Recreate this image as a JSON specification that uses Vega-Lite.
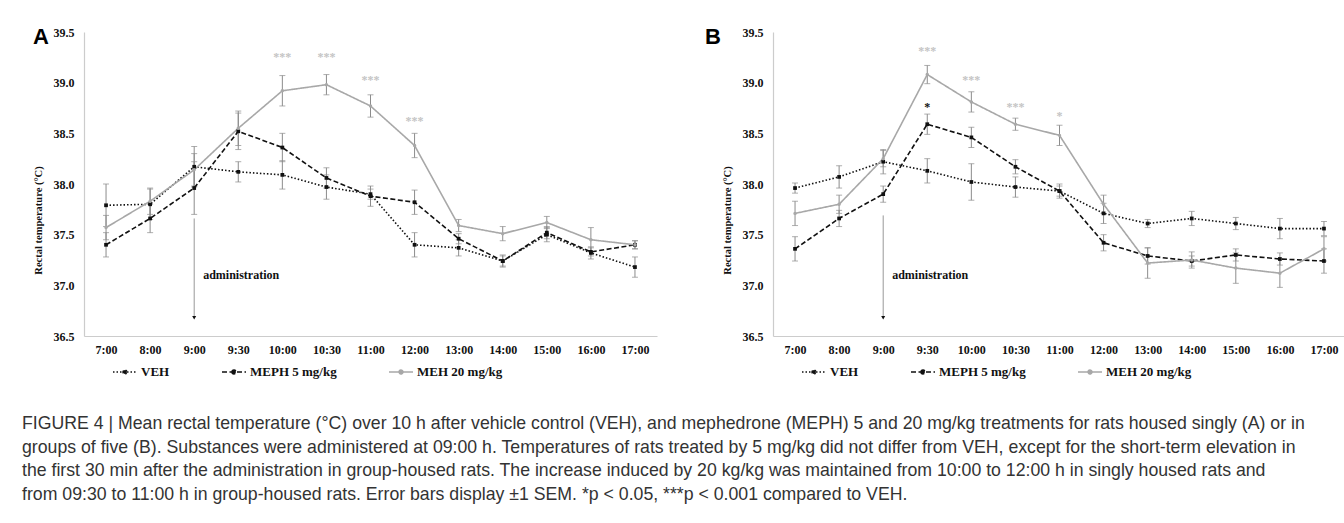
{
  "$schema": "https://vega.github.io/schema/vega-lite/v6.json",
  "background": "#ffffff",
  "padding": {"left": 22, "top": 26, "right": 0, "bottom": 0},
  "autosize": {"type": "pad"},
  "datasets": {
    "temps": [
      {"panel":"A","time":"7:00","series":"VEH","mean":37.79,"sem":0.21},
      {"panel":"A","time":"8:00","series":"VEH","mean":37.80,"sem":0.15},
      {"panel":"A","time":"9:00","series":"VEH","mean":38.17,"sem":0.20},
      {"panel":"A","time":"9:30","series":"VEH","mean":38.12,"sem":0.10},
      {"panel":"A","time":"10:00","series":"VEH","mean":38.09,"sem":0.14},
      {"panel":"A","time":"10:30","series":"VEH","mean":37.97,"sem":0.12},
      {"panel":"A","time":"11:00","series":"VEH","mean":37.90,"sem":0.05},
      {"panel":"A","time":"12:00","series":"VEH","mean":37.40,"sem":0.12},
      {"panel":"A","time":"13:00","series":"VEH","mean":37.37,"sem":0.08},
      {"panel":"A","time":"14:00","series":"VEH","mean":37.24,"sem":0.06},
      {"panel":"A","time":"15:00","series":"VEH","mean":37.50,"sem":0.07},
      {"panel":"A","time":"16:00","series":"VEH","mean":37.32,"sem":0.06},
      {"panel":"A","time":"17:00","series":"VEH","mean":37.18,"sem":0.10},
      {"panel":"A","time":"7:00","series":"MEPH 5 mg/kg","mean":37.40,"sem":0.12},
      {"panel":"A","time":"8:00","series":"MEPH 5 mg/kg","mean":37.66,"sem":0.14},
      {"panel":"A","time":"9:00","series":"MEPH 5 mg/kg","mean":37.96,"sem":0.26},
      {"panel":"A","time":"9:30","series":"MEPH 5 mg/kg","mean":38.52,"sem":0.18},
      {"panel":"A","time":"10:00","series":"MEPH 5 mg/kg","mean":38.36,"sem":0.14},
      {"panel":"A","time":"10:30","series":"MEPH 5 mg/kg","mean":38.06,"sem":0.10},
      {"panel":"A","time":"11:00","series":"MEPH 5 mg/kg","mean":37.88,"sem":0.10},
      {"panel":"A","time":"12:00","series":"MEPH 5 mg/kg","mean":37.82,"sem":0.12},
      {"panel":"A","time":"13:00","series":"MEPH 5 mg/kg","mean":37.46,"sem":0.05},
      {"panel":"A","time":"14:00","series":"MEPH 5 mg/kg","mean":37.24,"sem":0.05},
      {"panel":"A","time":"15:00","series":"MEPH 5 mg/kg","mean":37.52,"sem":0.06},
      {"panel":"A","time":"16:00","series":"MEPH 5 mg/kg","mean":37.33,"sem":0.04},
      {"panel":"A","time":"17:00","series":"MEPH 5 mg/kg","mean":37.40,"sem":0.04},
      {"panel":"A","time":"7:00","series":"MEH 20 mg/kg","mean":37.57,"sem":0.12},
      {"panel":"A","time":"8:00","series":"MEH 20 mg/kg","mean":37.83,"sem":0.13},
      {"panel":"A","time":"9:00","series":"MEH 20 mg/kg","mean":38.14,"sem":0.16},
      {"panel":"A","time":"9:30","series":"MEH 20 mg/kg","mean":38.55,"sem":0.17},
      {"panel":"A","time":"10:00","series":"MEH 20 mg/kg","mean":38.92,"sem":0.15},
      {"panel":"A","time":"10:30","series":"MEH 20 mg/kg","mean":38.98,"sem":0.10},
      {"panel":"A","time":"11:00","series":"MEH 20 mg/kg","mean":38.77,"sem":0.11},
      {"panel":"A","time":"12:00","series":"MEH 20 mg/kg","mean":38.38,"sem":0.12},
      {"panel":"A","time":"13:00","series":"MEH 20 mg/kg","mean":37.59,"sem":0.06},
      {"panel":"A","time":"14:00","series":"MEH 20 mg/kg","mean":37.51,"sem":0.07},
      {"panel":"A","time":"15:00","series":"MEH 20 mg/kg","mean":37.62,"sem":0.06},
      {"panel":"A","time":"16:00","series":"MEH 20 mg/kg","mean":37.45,"sem":0.12},
      {"panel":"A","time":"17:00","series":"MEH 20 mg/kg","mean":37.40,"sem":0.04},
      {"panel":"B","time":"7:00","series":"VEH","mean":37.96,"sem":0.05},
      {"panel":"B","time":"8:00","series":"VEH","mean":38.07,"sem":0.11},
      {"panel":"B","time":"9:00","series":"VEH","mean":38.22,"sem":0.12},
      {"panel":"B","time":"9:30","series":"VEH","mean":38.13,"sem":0.12},
      {"panel":"B","time":"10:00","series":"VEH","mean":38.02,"sem":0.18},
      {"panel":"B","time":"10:30","series":"VEH","mean":37.97,"sem":0.10},
      {"panel":"B","time":"11:00","series":"VEH","mean":37.93,"sem":0.07},
      {"panel":"B","time":"12:00","series":"VEH","mean":37.71,"sem":0.10},
      {"panel":"B","time":"13:00","series":"VEH","mean":37.61,"sem":0.04},
      {"panel":"B","time":"14:00","series":"VEH","mean":37.66,"sem":0.07},
      {"panel":"B","time":"15:00","series":"VEH","mean":37.61,"sem":0.06},
      {"panel":"B","time":"16:00","series":"VEH","mean":37.56,"sem":0.10},
      {"panel":"B","time":"17:00","series":"VEH","mean":37.56,"sem":0.07},
      {"panel":"B","time":"7:00","series":"MEPH 5 mg/kg","mean":37.36,"sem":0.12},
      {"panel":"B","time":"8:00","series":"MEPH 5 mg/kg","mean":37.66,"sem":0.08},
      {"panel":"B","time":"9:00","series":"MEPH 5 mg/kg","mean":37.90,"sem":0.08},
      {"panel":"B","time":"9:30","series":"MEPH 5 mg/kg","mean":38.59,"sem":0.10},
      {"panel":"B","time":"10:00","series":"MEPH 5 mg/kg","mean":38.46,"sem":0.10},
      {"panel":"B","time":"10:30","series":"MEPH 5 mg/kg","mean":38.17,"sem":0.07},
      {"panel":"B","time":"11:00","series":"MEPH 5 mg/kg","mean":37.93,"sem":0.05},
      {"panel":"B","time":"12:00","series":"MEPH 5 mg/kg","mean":37.42,"sem":0.08},
      {"panel":"B","time":"13:00","series":"MEPH 5 mg/kg","mean":37.29,"sem":0.08},
      {"panel":"B","time":"14:00","series":"MEPH 5 mg/kg","mean":37.24,"sem":0.05},
      {"panel":"B","time":"15:00","series":"MEPH 5 mg/kg","mean":37.30,"sem":0.06},
      {"panel":"B","time":"16:00","series":"MEPH 5 mg/kg","mean":37.26,"sem":0.06},
      {"panel":"B","time":"17:00","series":"MEPH 5 mg/kg","mean":37.24,"sem":0.12},
      {"panel":"B","time":"7:00","series":"MEH 20 mg/kg","mean":37.71,"sem":0.12},
      {"panel":"B","time":"8:00","series":"MEH 20 mg/kg","mean":37.80,"sem":0.09},
      {"panel":"B","time":"9:00","series":"MEH 20 mg/kg","mean":38.25,"sem":0.08},
      {"panel":"B","time":"9:30","series":"MEH 20 mg/kg","mean":39.08,"sem":0.09},
      {"panel":"B","time":"10:00","series":"MEH 20 mg/kg","mean":38.81,"sem":0.10},
      {"panel":"B","time":"10:30","series":"MEH 20 mg/kg","mean":38.59,"sem":0.06},
      {"panel":"B","time":"11:00","series":"MEH 20 mg/kg","mean":38.48,"sem":0.10},
      {"panel":"B","time":"12:00","series":"MEH 20 mg/kg","mean":37.80,"sem":0.09},
      {"panel":"B","time":"13:00","series":"MEH 20 mg/kg","mean":37.22,"sem":0.15},
      {"panel":"B","time":"14:00","series":"MEH 20 mg/kg","mean":37.25,"sem":0.08},
      {"panel":"B","time":"15:00","series":"MEH 20 mg/kg","mean":37.17,"sem":0.15},
      {"panel":"B","time":"16:00","series":"MEH 20 mg/kg","mean":37.12,"sem":0.14},
      {"panel":"B","time":"17:00","series":"MEH 20 mg/kg","mean":37.36,"sem":0.12}
    ],
    "stars": [
      {"panel":"A","time":"10:00","y":39.28,"label":"***","series":"MEH 20 mg/kg"},
      {"panel":"A","time":"10:30","y":39.28,"label":"***","series":"MEH 20 mg/kg"},
      {"panel":"A","time":"11:00","y":39.06,"label":"***","series":"MEH 20 mg/kg"},
      {"panel":"A","time":"12:00","y":38.65,"label":"***","series":"MEH 20 mg/kg"},
      {"panel":"B","time":"9:30","y":39.34,"label":"***","series":"MEH 20 mg/kg"},
      {"panel":"B","time":"9:30","y":38.79,"label":"*","series":"MEPH 5 mg/kg"},
      {"panel":"B","time":"10:00","y":39.06,"label":"***","series":"MEH 20 mg/kg"},
      {"panel":"B","time":"10:30","y":38.79,"label":"***","series":"MEH 20 mg/kg"},
      {"panel":"B","time":"11:00","y":38.70,"label":"*","series":"MEH 20 mg/kg"}
    ],
    "admin": [
      {"panel":"A","time":"9:00","top":37.66,"bottom":36.68,"labelY":37.10,"label":"administration"},
      {"panel":"B","time":"9:00","top":37.69,"bottom":36.68,"labelY":37.10,"label":"administration"}
    ]
  },
  "config": {
    "view": {"stroke": null},
    "axis": {"domainColor": "#cccccc", "domainWidth": 1.2, "ticks": false, "tickSize": 0, "grid": false, "labelFont": "Liberation Serif", "labelFontWeight": "bold", "labelFontSize": 12, "labelColor": "#111111", "titleFont": "Liberation Serif", "titleFontWeight": "bold", "titleFontSize": 10.5, "titleColor": "#111111"},
    "axisX": {"labelPadding": 8},
    "axisY": {"labelPadding": 10, "titlePadding": 10},
    "legend": {"labelFont": "Liberation Serif", "labelFontWeight": "bold", "labelFontSize": 13, "labelColor": "#111111"}
  },
  "title": {
    "text": [
      "FIGURE 4 | Mean rectal temperature (°C) over 10 h after vehicle control (VEH), and mephedrone (MEPH) 5 and 20 mg/kg treatments for rats housed singly (A) or in",
      "groups of five (B). Substances were administered at 09:00 h. Temperatures of rats treated by 5 mg/kg did not differ from VEH, except for the short-term elevation in",
      "the first 30 min after the administration in group-housed rats. The increase induced by 20 kg/kg was maintained from 10:00 to 12:00 h in singly housed rats and",
      "from 09:30 to 11:00 h in group-housed rats. Error bars display ±1 SEM. *p < 0.05, ***p < 0.001 compared to VEH."
    ],
    "orient": "bottom", "anchor": "start", "frame": "bounds", "dx": -11, "offset": 36,
    "font": "Liberation Sans", "fontSize": 17.7, "fontWeight": "normal", "color": "#333333", "lineHeight": 23.7
  },
  "spacing": 48,
  "resolve": {"scale": {"color": "independent", "strokeDash": "independent", "x": "independent", "y": "independent"}, "legend": {"color": "independent", "strokeDash": "independent"}},
  "hconcat": [
    {
      "width": 573, "height": 304,
      "title": {"text": "A", "anchor": "start", "frame": "bounds", "font": "Liberation Sans", "fontSize": 22, "fontWeight": "bold", "color": "#000000", "offset": -23},
      "encoding": {
        "x": {"field": "time", "type": "ordinal", "title": null, "scale": {"type": "point", "padding": 0.5, "domain": ["7:00","8:00","9:00","9:30","10:00","10:30","11:00","12:00","13:00","14:00","15:00","16:00","17:00"]}, "axis": {"labelAngle": 0}}
      },
      "layer": [
        {"data": {"name": "temps"}, "transform": [{"filter": "datum.panel === 'A'"}],
         "mark": {"type": "errorbar", "ticks": {"size": 6, "color": "#8c8c8c"}, "color": "#8c8c8c", "thickness": 1},
         "encoding": {"y": {"field": "mean", "type": "quantitative", "title": "Rectal temperature (°C)", "scale": {"domain": [36.5, 39.5], "nice": false, "zero": false}, "axis": {"values": [36.5,37,37.5,38,38.5,39,39.5], "format": ".1f", "titleY": 188}}, "yError": {"field": "sem"}}},
        {"data": {"name": "temps"}, "transform": [{"filter": "datum.panel === 'A'"}],
         "mark": {"type": "line", "strokeWidth": 1.6},
         "encoding": {
           "y": {"field": "mean", "type": "quantitative", "title": "Rectal temperature (°C)", "scale": {"domain": [36.5, 39.5], "nice": false, "zero": false}},
           "color": {"field": "series", "type": "nominal", "scale": {"domain": ["VEH","MEPH 5 mg/kg","MEH 20 mg/kg"], "range": ["#111111","#111111","#a8a8a8"]},
             "legend": {"title": null, "orient": "none", "legendX": 28, "legendY": 327, "direction": "horizontal", "columnPadding": 48, "symbolType": "M-1,0H1M-0.16,0A0.16,0.16,0,1,1,0.16,0A0.16,0.16,0,1,1,-0.16,0", "symbolSize": 576, "symbolStrokeWidth": 1.6, "labelOffset": 3,
               "encode": {"symbols": {"update": {"fill": {"signal": "datum.value === 'MEH 20 mg/kg' ? '#a8a8a8' : '#111111'"}}}}}},
           "strokeDash": {"field": "series", "type": "nominal", "scale": {"domain": ["VEH","MEPH 5 mg/kg","MEH 20 mg/kg"], "range": [[1.5,2],[5,2.5],[1,0]]},
             "legend": {"title": null, "orient": "none", "legendX": 28, "legendY": 327, "direction": "horizontal", "columnPadding": 48, "symbolType": "M-1,0H1M-0.16,0A0.16,0.16,0,1,1,0.16,0A0.16,0.16,0,1,1,-0.16,0", "symbolSize": 576, "symbolStrokeWidth": 1.6, "labelOffset": 3}}
         }},
        {"data": {"name": "temps"}, "transform": [{"filter": "datum.panel === 'A' && datum.series !== 'MEH 20 mg/kg'"}],
         "mark": {"type": "point", "filled": true, "shape": "square", "size": 14, "color": "#111111", "opacity": 1},
         "encoding": {"y": {"field": "mean", "type": "quantitative", "title": "Rectal temperature (°C)", "scale": {"domain": [36.5, 39.5], "nice": false, "zero": false}}}},
        {"data": {"name": "temps"}, "transform": [{"filter": "datum.panel === 'A' && datum.series === 'MEH 20 mg/kg'"}],
         "mark": {"type": "point", "filled": true, "shape": "circle", "size": 12, "color": "#a8a8a8", "opacity": 1},
         "encoding": {"y": {"field": "mean", "type": "quantitative", "title": "Rectal temperature (°C)", "scale": {"domain": [36.5, 39.5], "nice": false, "zero": false}}}},
        {"data": {"name": "admin"}, "transform": [{"filter": "datum.panel === 'A'"}],
         "mark": {"type": "rule", "color": "#999999", "strokeWidth": 1},
         "encoding": {"y": {"field": "top", "type": "quantitative", "title": "Rectal temperature (°C)", "scale": {"domain": [36.5, 39.5], "nice": false, "zero": false}}, "y2": {"field": "bottom"}}},
        {"data": {"name": "admin"}, "transform": [{"filter": "datum.panel === 'A'"}],
         "mark": {"type": "point", "filled": true, "shape": "triangle-down", "size": 16, "color": "#111111", "opacity": 1},
         "encoding": {"y": {"field": "bottom", "type": "quantitative", "title": "Rectal temperature (°C)", "scale": {"domain": [36.5, 39.5], "nice": false, "zero": false}}}},
        {"data": {"name": "admin"}, "transform": [{"filter": "datum.panel === 'A'"}],
         "mark": {"type": "text", "align": "left", "baseline": "middle", "dx": 9, "font": "Liberation Serif", "fontWeight": "bold", "fontSize": 12, "color": "#111111"},
         "encoding": {"y": {"field": "labelY", "type": "quantitative", "title": "Rectal temperature (°C)", "scale": {"domain": [36.5, 39.5], "nice": false, "zero": false}}, "text": {"field": "label"}}},
        {"data": {"name": "stars"}, "transform": [{"filter": "datum.panel === 'A' && datum.series === 'MEH 20 mg/kg'"}],
         "mark": {"type": "text", "align": "center", "baseline": "middle", "dy": 3, "font": "Liberation Serif", "fontWeight": "bold", "fontSize": 12, "color": "#c4c4c4"},
         "encoding": {"y": {"field": "y", "type": "quantitative", "title": "Rectal temperature (°C)", "scale": {"domain": [36.5, 39.5], "nice": false, "zero": false}}, "text": {"field": "label"}}}
      ]
    },
    {
      "width": 573, "height": 304,
      "title": {"text": "B", "anchor": "start", "frame": "bounds", "dx": -17, "font": "Liberation Sans", "fontSize": 22, "fontWeight": "bold", "color": "#000000", "offset": -23},
      "encoding": {
        "x": {"field": "time", "type": "ordinal", "title": null, "scale": {"type": "point", "padding": 0.5, "domain": ["7:00","8:00","9:00","9:30","10:00","10:30","11:00","12:00","13:00","14:00","15:00","16:00","17:00"]}, "axis": {"labelAngle": 0}}
      },
      "layer": [
        {"data": {"name": "temps"}, "transform": [{"filter": "datum.panel === 'B'"}],
         "mark": {"type": "errorbar", "ticks": {"size": 6, "color": "#8c8c8c"}, "color": "#8c8c8c", "thickness": 1},
         "encoding": {"y": {"field": "mean", "type": "quantitative", "title": "Rectal temperature (°C)", "scale": {"domain": [36.5, 39.5], "nice": false, "zero": false}, "axis": {"values": [36.5,37,37.5,38,38.5,39,39.5], "format": ".1f", "titleY": 188}}, "yError": {"field": "sem"}}},
        {"data": {"name": "temps"}, "transform": [{"filter": "datum.panel === 'B'"}],
         "mark": {"type": "line", "strokeWidth": 1.6},
         "encoding": {
           "y": {"field": "mean", "type": "quantitative", "title": "Rectal temperature (°C)", "scale": {"domain": [36.5, 39.5], "nice": false, "zero": false}},
           "color": {"field": "series", "type": "nominal", "scale": {"domain": ["VEH","MEPH 5 mg/kg","MEH 20 mg/kg"], "range": ["#111111","#111111","#a8a8a8"]},
             "legend": {"title": null, "orient": "none", "legendX": 28, "legendY": 327, "direction": "horizontal", "columnPadding": 48, "symbolType": "M-1,0H1M-0.16,0A0.16,0.16,0,1,1,0.16,0A0.16,0.16,0,1,1,-0.16,0", "symbolSize": 576, "symbolStrokeWidth": 1.6, "labelOffset": 3,
               "encode": {"symbols": {"update": {"fill": {"signal": "datum.value === 'MEH 20 mg/kg' ? '#a8a8a8' : '#111111'"}}}}}},
           "strokeDash": {"field": "series", "type": "nominal", "scale": {"domain": ["VEH","MEPH 5 mg/kg","MEH 20 mg/kg"], "range": [[1.5,2],[5,2.5],[1,0]]},
             "legend": {"title": null, "orient": "none", "legendX": 28, "legendY": 327, "direction": "horizontal", "columnPadding": 48, "symbolType": "M-1,0H1M-0.16,0A0.16,0.16,0,1,1,0.16,0A0.16,0.16,0,1,1,-0.16,0", "symbolSize": 576, "symbolStrokeWidth": 1.6, "labelOffset": 3}}
         }},
        {"data": {"name": "temps"}, "transform": [{"filter": "datum.panel === 'B' && datum.series !== 'MEH 20 mg/kg'"}],
         "mark": {"type": "point", "filled": true, "shape": "square", "size": 14, "color": "#111111", "opacity": 1},
         "encoding": {"y": {"field": "mean", "type": "quantitative", "title": "Rectal temperature (°C)", "scale": {"domain": [36.5, 39.5], "nice": false, "zero": false}}}},
        {"data": {"name": "temps"}, "transform": [{"filter": "datum.panel === 'B' && datum.series === 'MEH 20 mg/kg'"}],
         "mark": {"type": "point", "filled": true, "shape": "circle", "size": 12, "color": "#a8a8a8", "opacity": 1},
         "encoding": {"y": {"field": "mean", "type": "quantitative", "title": "Rectal temperature (°C)", "scale": {"domain": [36.5, 39.5], "nice": false, "zero": false}}}},
        {"data": {"name": "admin"}, "transform": [{"filter": "datum.panel === 'B'"}],
         "mark": {"type": "rule", "color": "#999999", "strokeWidth": 1},
         "encoding": {"y": {"field": "top", "type": "quantitative", "title": "Rectal temperature (°C)", "scale": {"domain": [36.5, 39.5], "nice": false, "zero": false}}, "y2": {"field": "bottom"}}},
        {"data": {"name": "admin"}, "transform": [{"filter": "datum.panel === 'B'"}],
         "mark": {"type": "point", "filled": true, "shape": "triangle-down", "size": 16, "color": "#111111", "opacity": 1},
         "encoding": {"y": {"field": "bottom", "type": "quantitative", "title": "Rectal temperature (°C)", "scale": {"domain": [36.5, 39.5], "nice": false, "zero": false}}}},
        {"data": {"name": "admin"}, "transform": [{"filter": "datum.panel === 'B'"}],
         "mark": {"type": "text", "align": "left", "baseline": "middle", "dx": 9, "font": "Liberation Serif", "fontWeight": "bold", "fontSize": 12, "color": "#111111"},
         "encoding": {"y": {"field": "labelY", "type": "quantitative", "title": "Rectal temperature (°C)", "scale": {"domain": [36.5, 39.5], "nice": false, "zero": false}}, "text": {"field": "label"}}},
        {"data": {"name": "stars"}, "transform": [{"filter": "datum.panel === 'B' && datum.series === 'MEH 20 mg/kg'"}],
         "mark": {"type": "text", "align": "center", "baseline": "middle", "dy": 3, "font": "Liberation Serif", "fontWeight": "bold", "fontSize": 12, "color": "#c4c4c4"},
         "encoding": {"y": {"field": "y", "type": "quantitative", "title": "Rectal temperature (°C)", "scale": {"domain": [36.5, 39.5], "nice": false, "zero": false}}, "text": {"field": "label"}}},
        {"data": {"name": "stars"}, "transform": [{"filter": "datum.panel === 'B' && datum.series === 'MEPH 5 mg/kg'"}],
         "mark": {"type": "text", "align": "center", "baseline": "middle", "dy": 3, "font": "Liberation Serif", "fontWeight": "bold", "fontSize": 12, "color": "#111111"},
         "encoding": {"y": {"field": "y", "type": "quantitative", "title": "Rectal temperature (°C)", "scale": {"domain": [36.5, 39.5], "nice": false, "zero": false}}, "text": {"field": "label"}}}
      ]
    }
  ]
}
